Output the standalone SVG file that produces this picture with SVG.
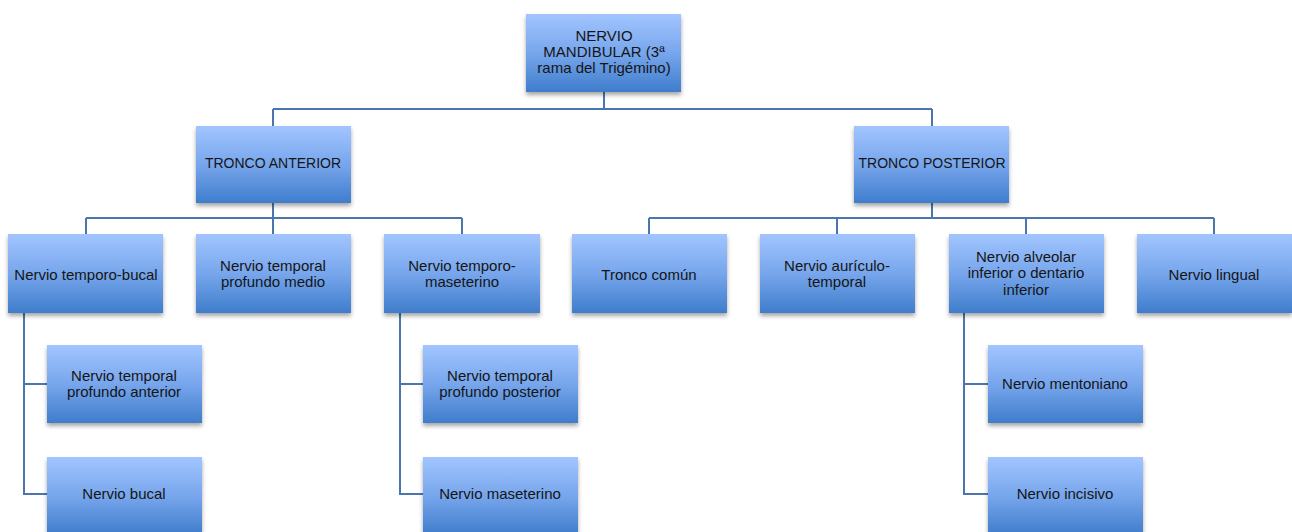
<svg xmlns="http://www.w3.org/2000/svg" width="1292" height="532" viewBox="0 0 1292 532">
<defs>
<linearGradient id="g" x1="0" y1="0" x2="0" y2="1">
<stop offset="0" stop-color="#a2c5ff"/>
<stop offset="0.5" stop-color="#77a6ec"/>
<stop offset="1" stop-color="#3f7dcc"/>
</linearGradient>
<filter id="sh" x="-10%" y="-10%" width="120%" height="130%">
<feDropShadow dx="0" dy="3" stdDeviation="2" flood-color="#000" flood-opacity="0.35"/>
</filter>
</defs>
<style>
.b{fill:url(#g);filter:url(#sh);}
.t{font-family:"Liberation Sans",Arial,sans-serif;font-size:15px;fill:#151515;text-anchor:middle;}
.u{font-size:14px;}
.c{fill:none;stroke:#4a76ad;stroke-width:2;}
</style>
<rect width="1292" height="532" fill="#fff"/>
<g id="connectors">
<path class="c" d="M604 92V109M273 109H932M273 109V126M932 109V126"/>
<path class="c" d="M273 203V218M86 218H462M86 218V234M273 218V234M462 218V234"/>
<path class="c" d="M932 203V218M649 218H1214M649 218V234M837 218V234M1026 218V234M1214 218V234"/>
<path class="c" d="M24 313V494H47M24 384H47"/>
<path class="c" d="M400 313V494H423M400 384H423"/>
<path class="c" d="M964 313V494H988M964 384H988"/>
</g>
<g id="n0"><rect class="b" x="526" y="14" width="155" height="78"/><text class="t" x="604" y="41">NERVIO</text><text class="t" x="604" y="57">MANDIBULAR (3ª</text><text class="t" x="604" y="73">rama del Trigémino)</text></g>
<g id="n1"><rect class="b" x="196" y="126" width="155" height="77"/><text class="t u" x="273" y="168">TRONCO ANTERIOR</text></g>
<g id="n2"><rect class="b" x="854" y="126" width="155" height="77"/><text class="t u" x="932" y="168">TRONCO POSTERIOR</text></g>
<g id="n3"><rect class="b" x="8" y="234" width="155" height="79"/><text class="t" x="86" y="280">Nervio temporo-bucal</text></g>
<g id="n4"><rect class="b" x="196" y="234" width="155" height="79"/><text class="t" x="273" y="271">Nervio temporal</text><text class="t" x="273" y="287">profundo medio</text></g>
<g id="n5"><rect class="b" x="384" y="234" width="156" height="79"/><text class="t" x="462" y="271">Nervio temporo-</text><text class="t" x="462" y="287">maseterino</text></g>
<g id="n6"><rect class="b" x="572" y="234" width="155" height="79"/><text class="t" x="649" y="280">Tronco común</text></g>
<g id="n7"><rect class="b" x="760" y="234" width="155" height="79"/><text class="t" x="837" y="271">Nervio aurículo-</text><text class="t" x="837" y="287">temporal</text></g>
<g id="n8"><rect class="b" x="949" y="234" width="155" height="79"/><text class="t" x="1026" y="262">Nervio alveolar</text><text class="t" x="1026" y="278">inferior o dentario</text><text class="t" x="1026" y="295">inferior</text></g>
<g id="n9"><rect class="b" x="1137" y="234" width="155" height="79"/><text class="t" x="1214" y="280">Nervio lingual</text></g>
<g id="n10"><rect class="b" x="47" y="345" width="155" height="78"/><text class="t" x="124" y="381">Nervio temporal</text><text class="t" x="124" y="397">profundo anterior</text></g>
<g id="n11"><rect class="b" x="47" y="457" width="155" height="78"/><text class="t" x="124" y="499">Nervio bucal</text></g>
<g id="n12"><rect class="b" x="423" y="345" width="155" height="78"/><text class="t" x="500" y="381">Nervio temporal</text><text class="t" x="500" y="397">profundo posterior</text></g>
<g id="n13"><rect class="b" x="423" y="457" width="155" height="78"/><text class="t" x="500" y="499">Nervio maseterino</text></g>
<g id="n14"><rect class="b" x="988" y="345" width="155" height="78"/><text class="t" x="1065" y="389">Nervio mentoniano</text></g>
<g id="n15"><rect class="b" x="988" y="457" width="155" height="78"/><text class="t" x="1065" y="499">Nervio incisivo</text></g>
</svg>
